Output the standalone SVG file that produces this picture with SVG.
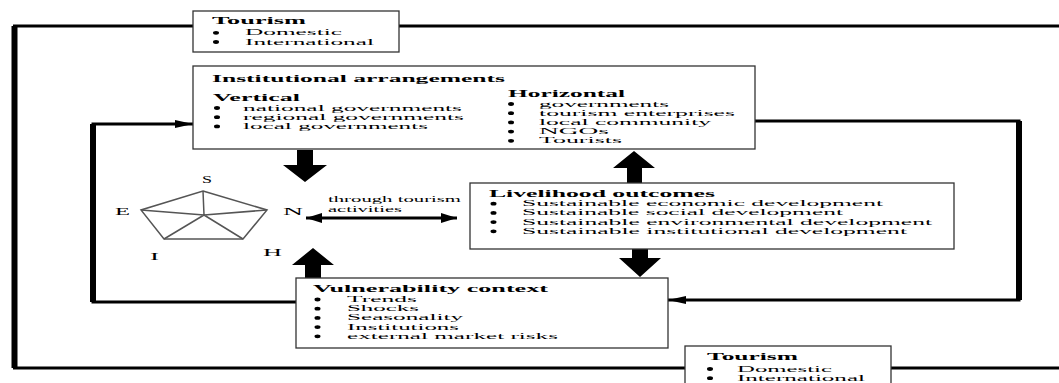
<svg xmlns="http://www.w3.org/2000/svg" width="1059" height="383" viewBox="0 0 1059 383">
<style>
.box{fill:#fff;stroke:#333;stroke-width:1.3}
.t{font-family:"Liberation Serif",serif;font-size:8.2px;fill:#000}
.b{font-weight:bold;font-size:10px}
.lab{font-size:11px}
.ln{fill:none;stroke:#000;stroke-width:3}
.thick{fill:none;stroke:#000;stroke-width:6}
.pent{fill:none;stroke:#555;stroke-width:1.5}
.blk{fill:#000}
</style>
<defs>
<marker id="ah" viewBox="0 0 18 8" refX="18" refY="4" markerWidth="18" markerHeight="8" markerUnits="userSpaceOnUse" orient="auto-start-reverse"><path d="M0,0 L18,4 L0,8 z" fill="#000"/></marker>
<marker id="ah2" viewBox="0 0 16 10" refX="16" refY="5" markerWidth="16" markerHeight="10" markerUnits="userSpaceOnUse" orient="auto-start-reverse"><path d="M0,0 L16,5 L0,10 z" fill="#000"/></marker>
<ellipse id="bul" cx="0" cy="0" rx="3" ry="1.9" fill="#000"/>
</defs>
<rect width="1059" height="383" fill="#fff"/>

<g id="connectors">
  <path class="ln" d="M193,26 H14.5 V368 H685"/>
  <line class="thick" x1="14.5" y1="26" x2="14.5" y2="368" stroke-width="5"/>
  <path class="ln" d="M399,26 H1059"/>
  <path class="ln" d="M891,368 H1059"/>
  <path class="ln" d="M296,302 H93 V124 H193" marker-end="url(#ah)"/>
  <line class="thick" x1="93" y1="124" x2="93" y2="302"/>
  <path class="ln" d="M755,121 H1019 V300 H668" marker-end="url(#ah)"/>
  <line class="thick" x1="1019" y1="121" x2="1019" y2="300"/>
  <path class="ln" d="M306,218 H457" marker-start="url(#ah2)" marker-end="url(#ah2)"/>
  <polygon class="blk" points="297,150 313,150 313,165 327,165 305,182 283,165 297,165"/>
  <polygon class="blk" points="305,278 321,278 321,265 334,265 313,248 292,265 305,265"/>
  <polygon class="blk" points="627,183 642,183 642,168 655,168 634,151 613,168 627,168"/>
  <polygon class="blk" points="632,249 648,249 648,258 661,258 640,277 619,258 632,258"/>
</g>

<g id="tourism-top">
  <rect class="box" x="193" y="11" width="206" height="41"/>
  <text class="t b" x="212" y="24" textLength="94" lengthAdjust="spacingAndGlyphs">Tourism</text>
  <use href="#bul" x="216" y="32.8"/>
  <text class="t" x="245" y="35.3" textLength="97" lengthAdjust="spacingAndGlyphs">Domestic</text>
  <use href="#bul" x="216" y="42"/>
  <text class="t" x="245" y="44.5" textLength="129" lengthAdjust="spacingAndGlyphs">International</text>
</g>

<g id="institutional">
  <rect class="box" x="193" y="66" width="562" height="83"/>
  <text class="t b" x="212" y="82" textLength="293" lengthAdjust="spacingAndGlyphs">Institutional arrangements</text>
  <text class="t b" x="213" y="101" textLength="87" lengthAdjust="spacingAndGlyphs">Vertical</text>
  <use href="#bul" x="217" y="108"/>
  <text class="t" x="243" y="110.5" textLength="219" lengthAdjust="spacingAndGlyphs">national governments</text>
  <use href="#bul" x="217" y="117.2"/>
  <text class="t" x="243" y="119.7" textLength="221" lengthAdjust="spacingAndGlyphs">regional governments</text>
  <use href="#bul" x="217" y="126.4"/>
  <text class="t" x="243" y="128.9" textLength="185" lengthAdjust="spacingAndGlyphs">local governments</text>
  <text class="t b" x="508" y="97" textLength="117" lengthAdjust="spacingAndGlyphs">Horizontal</text>
  <use href="#bul" x="511" y="104"/>
  <text class="t" x="539" y="106.5" textLength="130" lengthAdjust="spacingAndGlyphs">governments</text>
  <use href="#bul" x="511" y="113.2"/>
  <text class="t" x="539" y="115.7" textLength="196" lengthAdjust="spacingAndGlyphs">tourism enterprises</text>
  <use href="#bul" x="511" y="122.4"/>
  <text class="t" x="539" y="124.9" textLength="172" lengthAdjust="spacingAndGlyphs">local community</text>
  <use href="#bul" x="511" y="131.6"/>
  <text class="t" x="539" y="134.1" textLength="70" lengthAdjust="spacingAndGlyphs">NGOs</text>
  <use href="#bul" x="511" y="140.8"/>
  <text class="t" x="539" y="143.3" textLength="83" lengthAdjust="spacingAndGlyphs">Tourists</text>
</g>

<g id="pentagon">
  <polygon class="pent" points="203,191 267,210 243,239 164,239 141,210"/>
  <path class="pent" d="M204,215 L203,191 M204,215 L267,210 M204,215 L243,239 M204,215 L164,239 M204,215 L141,210"/>
  <text class="t lab" x="202" y="183" textLength="10" lengthAdjust="spacingAndGlyphs">S</text>
  <text class="t lab" x="115" y="215" textLength="15" lengthAdjust="spacingAndGlyphs">E</text>
  <text class="t lab" x="283" y="215" textLength="20" lengthAdjust="spacingAndGlyphs">N</text>
  <text class="t lab" x="150" y="260" textLength="9" lengthAdjust="spacingAndGlyphs">I</text>
  <text class="t lab" x="263" y="256" textLength="19" lengthAdjust="spacingAndGlyphs">H</text>
</g>

<g id="through-label">
  <text class="t" x="328" y="202" font-size="9" textLength="133" lengthAdjust="spacingAndGlyphs">through tourism</text>
  <text class="t" x="328" y="212" font-size="9" textLength="74" lengthAdjust="spacingAndGlyphs">activities</text>
</g>

<g id="livelihood">
  <rect class="box" x="470" y="183" width="484" height="66"/>
  <text class="t b" x="489" y="196.5" textLength="226" lengthAdjust="spacingAndGlyphs">Livelihood outcomes</text>
  <use href="#bul" x="493.5" y="203.7"/>
  <text class="t" x="522" y="206.2" textLength="361" lengthAdjust="spacingAndGlyphs">Sustainable economic development</text>
  <use href="#bul" x="493.5" y="212.9"/>
  <text class="t" x="522" y="215.4" textLength="321" lengthAdjust="spacingAndGlyphs">Sustainable social development</text>
  <use href="#bul" x="493.5" y="222.1"/>
  <text class="t" x="522" y="224.6" textLength="410" lengthAdjust="spacingAndGlyphs">Sustainable environmental development</text>
  <use href="#bul" x="493.5" y="231.3"/>
  <text class="t" x="522" y="233.8" textLength="385" lengthAdjust="spacingAndGlyphs">Sustainable institutional development</text>
</g>

<g id="vulnerability">
  <rect class="box" x="296" y="278" width="372" height="70"/>
  <text class="t b" x="313" y="291.5" textLength="235" lengthAdjust="spacingAndGlyphs">Vulnerability context</text>
  <use href="#bul" x="317.5" y="299.5"/>
  <text class="t" x="347" y="302" textLength="70" lengthAdjust="spacingAndGlyphs">Trends</text>
  <use href="#bul" x="317.5" y="308.7"/>
  <text class="t" x="347" y="311.2" textLength="72" lengthAdjust="spacingAndGlyphs">Shocks</text>
  <use href="#bul" x="317.5" y="317.9"/>
  <text class="t" x="347" y="320.4" textLength="116" lengthAdjust="spacingAndGlyphs">Seasonality</text>
  <use href="#bul" x="317.5" y="327.1"/>
  <text class="t" x="347" y="329.6" textLength="112" lengthAdjust="spacingAndGlyphs">Institutions</text>
  <use href="#bul" x="317.5" y="336.3"/>
  <text class="t" x="347" y="338.8" textLength="211" lengthAdjust="spacingAndGlyphs">external market risks</text>
</g>

<g id="tourism-bottom">
  <rect class="box" x="685" y="346" width="206" height="45"/>
  <text class="t b" x="707" y="359.5" textLength="91" lengthAdjust="spacingAndGlyphs">Tourism</text>
  <use href="#bul" x="710" y="369"/>
  <text class="t" x="737" y="371.5" textLength="95" lengthAdjust="spacingAndGlyphs">Domestic</text>
  <use href="#bul" x="710" y="378.2"/>
  <text class="t" x="737" y="380.7" textLength="128" lengthAdjust="spacingAndGlyphs">International</text>
</g>
</svg>
